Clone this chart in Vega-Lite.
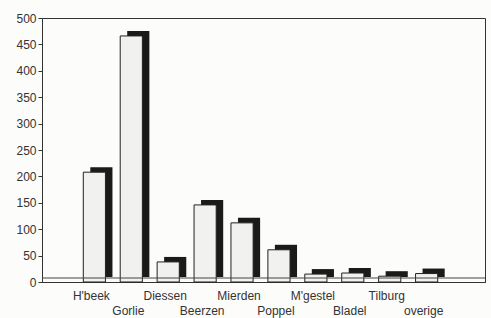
{
  "$schema": "https://vega.github.io/schema/vega-lite/v6.json",
  "width": 443,
  "height": 264,
  "autosize": "none",
  "padding": {"left": 42, "top": 18, "right": 6, "bottom": 36},
  "background": "#fcfcfa",
  "config": {"view": {"stroke": "#333", "strokeWidth": 1}, "font": "Liberation Sans",
    "axisY": {"title": null, "grid": false, "values": [0, 50, 100, 150, 200, 250, 300, 350, 400, 450, 500], "labelOverlap": false, "tickSize": 4, "tickColor": "#333", "domainColor": "#333", "labelFontSize": 12, "labelColor": "#333", "labelPadding": 2}},
  "data": {"values": [
    {"place": "H'beek", "n": 208},
    {"place": "Gorlie", "n": 466},
    {"place": "Diessen", "n": 38},
    {"place": "Beerzen", "n": 146},
    {"place": "Mierden", "n": 112},
    {"place": "Poppel", "n": 61},
    {"place": "M'gestel", "n": 15},
    {"place": "Bladel", "n": 17},
    {"place": "Tilburg", "n": 11},
    {"place": "overige", "n": 16}
  ]},
  "layer": [
    {
      "mark": {"type": "bar", "color": "#1a1a1a", "xOffset": 4, "yOffset": -5},
      "encoding": {
        "x": {"field": "place", "type": "nominal", "sort": null,
          "scale": {"domain": ["_a", "H'beek", "Gorlie", "Diessen", "Beerzen", "Mierden", "Poppel", "M'gestel", "Bladel", "Tilburg", "overige", "_b"], "paddingInner": 0.4, "paddingOuter": 0.2},
          "axis": {"title": null, "ticks": false, "labelAngle": 0, "labelOffset": -6, "labelPadding": 8, "labelFontSize": 12, "labelColor": "#333", "labelLineHeight": 15, "domainColor": "#333", "labelOverlap": false,
            "labelExpr": "indexof(['_a','_b'], datum.value) >= 0 ? '' : (indexof(['Gorlie','Beerzen','Poppel','Bladel','overige'], datum.value) >= 0 ? ['', datum.value] : datum.value)"}},
        "y": {"field": "n", "type": "quantitative", "scale": {"domain": [0, 500]}, "axis": {"values": [0, 50, 100, 150, 200, 250, 300, 350, 400, 450, 500], "labelOverlap": false}}
      }
    },
    {
      "mark": {"type": "bar", "fill": "#f1f1ef", "stroke": "#222", "strokeWidth": 1, "xOffset": -3},
      "encoding": {
        "x": {"field": "place", "type": "nominal", "sort": null},
        "y": {"field": "n", "type": "quantitative", "axis": {"values": [0, 50, 100, 150, 200, 250, 300, 350, 400, 450, 500], "labelOverlap": false}}
      }
    },
    {
      "data": {"values": [{"z": 0}]},
      "mark": {"type": "rule", "yOffset": -4, "color": "#444", "strokeWidth": 1},
      "encoding": {"y": {"field": "z", "type": "quantitative", "axis": {"values": [0, 50, 100, 150, 200, 250, 300, 350, 400, 450, 500], "labelOverlap": false}}}
    }
  ]
}
